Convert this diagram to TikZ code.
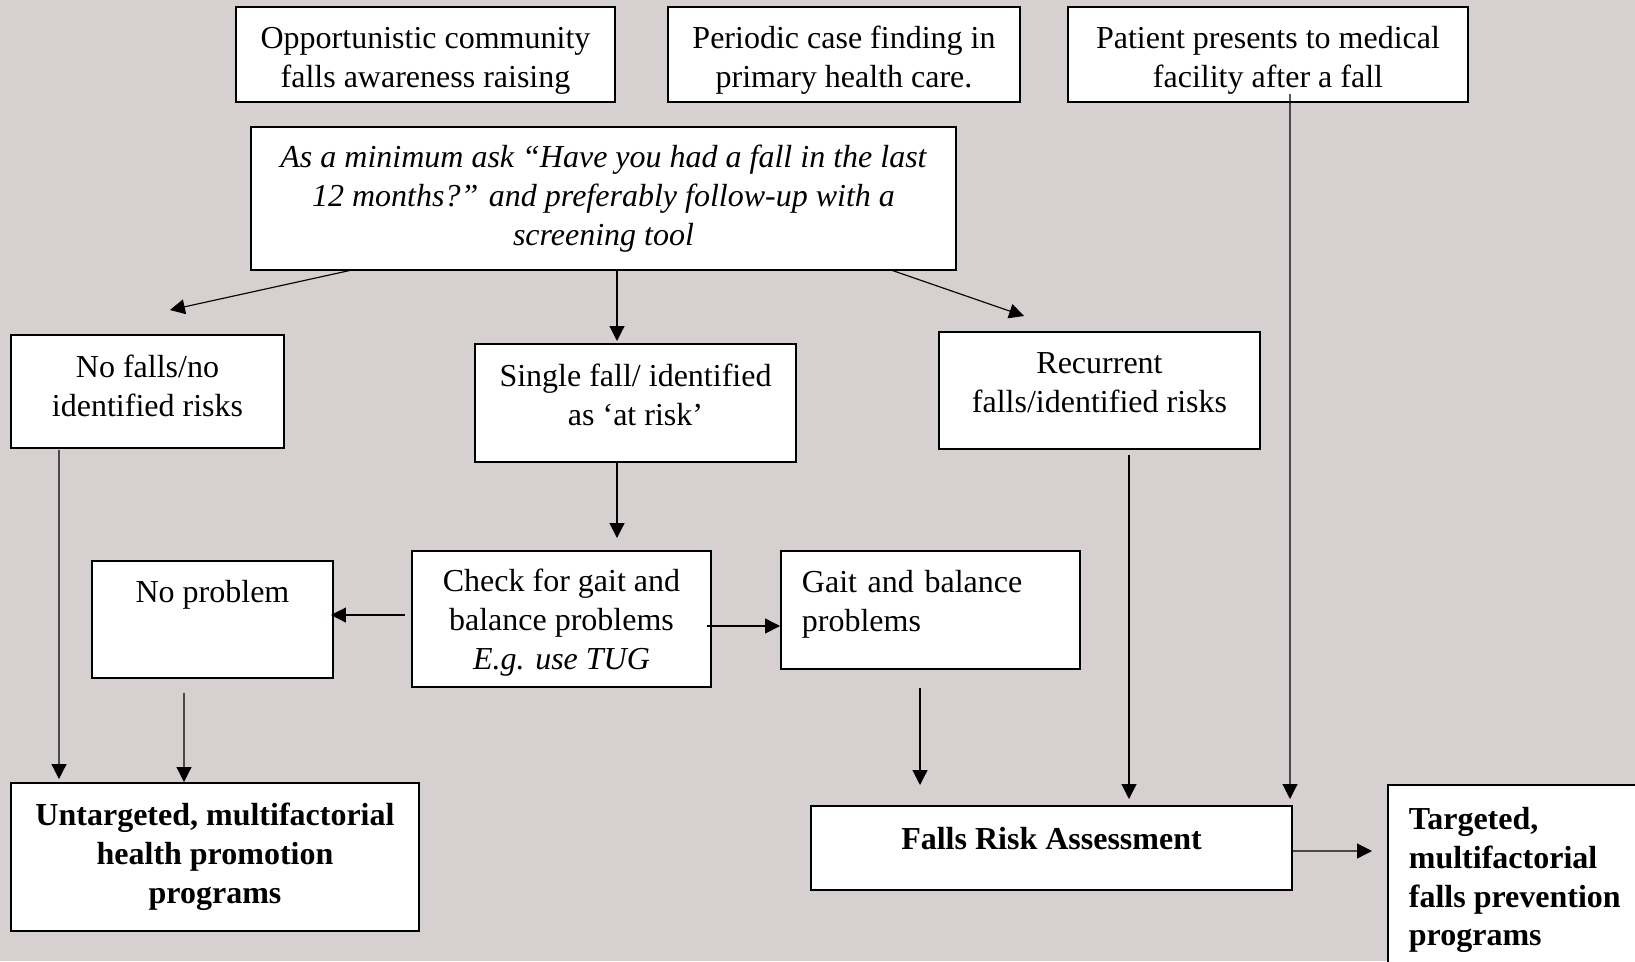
\documentclass[tikz,border=0pt]{standalone}
\usepackage{fontspec}
\setmainfont{Liberation Serif}
\usepackage{xcolor}
\usepackage{tikz}
\usetikzlibrary{arrows.meta,calc}
\definecolor{pagebg}{RGB}{214,208,208}
\newcommand{\firstlinestrut}{\rule{0pt}{12pt}}
\tikzset{
	>={Triangle[length=5.2pt,width=5.2pt]},
	box/.style = {
			draw, fill=white, line width=0.6pt,
			inner sep=0pt, outer sep=0pt,
			align=center,
			font=\fontsize{11.2}{13.6}\selectfont,
		},
	flow/.style = {->, line width=0.4pt},
}

\begin{document}
\begin{tikzpicture}[x=0.35pt,y=-0.35pt]
	\useasboundingbox[fill=pagebg] (0,0) rectangle (1635,961);

	% entry points
	\node[box, minimum width=132.65pt, minimum height=33.25pt] (awareness) at (425.5,54.5)
	{\firstlinestrut Opportunistic community\\falls awareness raising};
	\node[box, minimum width=123.2pt, minimum height=33.25pt] (casefinding) at (844,54.5)
	{\firstlinestrut Periodic case finding in\\primary health care.};
	\node[box, minimum width=140pt, minimum height=33.25pt] (presents) at (1268,54.5)
	{\firstlinestrut Patient presents to medical\\facility after a fall};

	\node[box, font=\fontsize{11.2}{13.6}\selectfont\itshape,
		minimum width=246.75pt, minimum height=50.05pt] (screen) at (603.5,198.5)
	{As a minimum ask “Have you had a fall in the last\\
		12 months?” and preferably follow-up with a\\
		screening tool};

	% outcomes of screening
	\node[box, minimum width=95.55pt, minimum height=39.55pt, text depth=4pt] (nofalls) at (147.5,391.5)
	{No falls/no\\identified risks};
	\node[box, minimum width=112.35pt, minimum height=41.3pt, text depth=6pt] (single) at (635.5,403)
	{Single fall/ identified\\as ‘at risk’};
	\node[box, minimum width=112.35pt, minimum height=40.95pt, text depth=5.5pt] (recurrent) at (1099.5,390.5)
	{Recurrent\\falls/identified risks};

	\node[box, minimum width=104.65pt, minimum height=47.6pt, text depth=0pt] (check) at (561.5,619)
	{Check for gait and\\balance problems\\\textit{E.g. use TUG}};
	\node[box, minimum width=84.35pt, minimum height=40.95pt, text depth=19.4pt] (noproblem) at (212.5,619.5)
	{No problem};
	\node[box, align=left, text width=90pt, inner xsep=7.3pt,
		minimum height=41.3pt, text depth=20pt] (gaitbal) at (930.5,610)
	{Gait and balance\\problems};

	% programs
	\node[box, font=\fontsize{11.2}{13.6}\selectfont\bfseries,
		minimum width=142.8pt, minimum height=51.8pt] (untargeted) at (215,857)
	{Untargeted, multifactorial\\health promotion\\programs};
	\node[box, font=\fontsize{11.2}{13.6}\selectfont\bfseries,
		minimum width=168.35pt, minimum height=29.4pt, text depth=7pt] (fra) at (1051.5,848)
	{Falls Risk Assessment};
	\node[box, font=\fontsize{11.2}{13.6}\selectfont\bfseries, align=left,
		inner xsep=7.3pt, minimum height=66.5pt, anchor=north west] (targeted) at (1388,785)
	{Targeted,\\multifactorial\\falls prevention\\programs};

	\draw[flow] ($(screen.south west)+(101,0)$) -- ($(nofalls.north)+(22.5,-25)$);
	\draw[flow] ($(screen.south)+(13.5,0)$) -- ($(single.north)+(-18.5,-3)$);
	\draw[flow] ($(screen.south east)+(-65,0)$) -- ($(recurrent.north)+(-75.5,-16)$);
	\draw[flow] ($(single.south)+(-18.5,0)$) -- ($(check.north)+(55.5,-13)$);
	\draw[flow] ($(check.west)+(-7,-4)$) -- ($(noproblem.east)+(-2,-4.5)$);
	\draw[flow] ($(check.east)+(-4,7)$) -- ($(gaitbal.west)+(-1,16)$);
	\draw[flow] ($(nofalls.south west)+(48,2)$) -- ($(untargeted.north west)+(48,-4)$);
	\draw[flow] ($(noproblem.south west)+(92,15)$) -- ($(untargeted.north west)+(173,-1)$);
	\draw[flow] ($(gaitbal.south)+(-10.5,19)$) -- ($(fra.north)+(-131.5,-21)$);
	\draw[flow] ($(recurrent.south)+(29.5,6)$) -- ($(fra.north)+(77.5,-7)$);
	\draw[flow] ($(presents.south)+(22,-8)$) -- ($(fra.north east)+(-2,-7)$);
	\draw[flow] ($(fra.east)+(0,3)$) -- ($(targeted.west)+(-16,-29)$);
\end{tikzpicture}
\end{document}
